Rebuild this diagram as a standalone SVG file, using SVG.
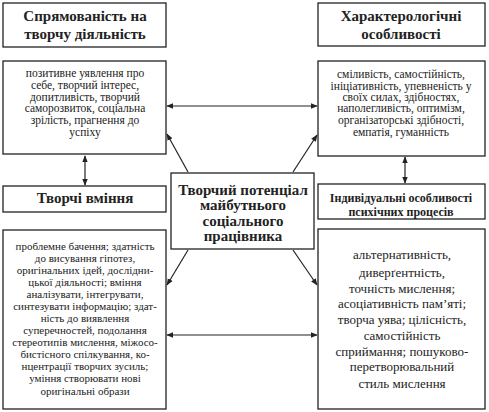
<svg xmlns="http://www.w3.org/2000/svg" width="489" height="412" viewBox="0 0 489 412">
<style>
.box{fill:#fff;stroke:#222;stroke-width:1.3}
.t{font-weight:bold;font-size:15px}
.s{font-size:11px}
.m{font-size:11.5px}
.l{font-size:13px}
.c{stroke:#222;stroke-width:1.2;fill:none}
</style>
<defs>
<marker id="a" viewBox="0 0 10 10" refX="9" refY="5" markerWidth="7" markerHeight="7" orient="auto-start-reverse" markerUnits="userSpaceOnUse">
<path d="M0,1 L10,5 L0,9 z" fill="#222"/>
</marker>
</defs>
<g id="connectors">
<line class="c" x1="167" y1="106" x2="317" y2="106" marker-start="url(#a)" marker-end="url(#a)"/>
<line class="c" x1="167" y1="335" x2="317" y2="335" marker-start="url(#a)" marker-end="url(#a)"/>
<line class="c" x1="188" y1="172" x2="167" y2="134" marker-end="url(#a)"/>
<line class="c" x1="293" y1="172" x2="317" y2="135" marker-end="url(#a)"/>
<line class="c" x1="188" y1="250" x2="167" y2="285" marker-end="url(#a)"/>
<line class="c" x1="293" y1="250" x2="317" y2="285" marker-end="url(#a)"/>
<line class="c" x1="85" y1="156" x2="85" y2="185" marker-start="url(#a)" marker-end="url(#a)"/>
<line class="c" x1="405" y1="157" x2="405" y2="183" marker-start="url(#a)" marker-end="url(#a)"/>
</g>
<g font-family="'Liberation Serif', 'DejaVu Serif', serif" fill="#222" text-anchor="middle">
<g id="n1">
<rect class="box" x="3" y="3" width="163" height="44"/>
<text class="t" x="85" y="21">Спрямованість на</text>
<text class="t" x="85" y="39">творчу діяльність</text>
</g>
<g id="n2">
<rect class="box" x="3" y="61" width="163" height="93"/>
<text class="m" x="85" y="77">позитивне уявлення про</text>
<text class="m" x="85" y="89">себе, творчий інтерес,</text>
<text class="m" x="85" y="101">допитливість, творчий</text>
<text class="m" x="85" y="112">саморозвиток, соціальна</text>
<text class="m" x="85" y="124">зрілість, прагнення до</text>
<text class="m" x="85" y="136">успіху</text>
</g>
<g id="n3">
<rect class="box" x="318" y="3" width="167" height="43"/>
<text class="t" x="401" y="21">Характерологічні</text>
<text class="t" x="401" y="39">особливості</text>
</g>
<g id="n4">
<rect class="box" x="318" y="61" width="167" height="95"/>
<text class="m" x="401" y="78">сміливість, самостійність,</text>
<text class="m" x="401" y="90">ініціативність, упевненість у</text>
<text class="m" x="401" y="101">своїх силах, здібностях,</text>
<text class="m" x="401" y="112">наполегливість, оптимізм,</text>
<text class="m" x="401" y="124">організаторські здібності,</text>
<text class="m" x="401" y="136">емпатія, гуманність</text>
</g>
<g id="n5">
<rect class="box" x="3" y="186" width="163" height="26"/>
<text class="t" x="85" y="203">Творчі вміння</text>
</g>
<g id="n6">
<rect class="box" x="3" y="230" width="163" height="179"/>
<text class="s" x="85" y="250">проблемне бачення; здатність</text>
<text class="s" x="85" y="262">до висування гіпотез,</text>
<text class="s" x="85" y="274">оригінальних ідей, дослідни-</text>
<text class="s" x="85" y="286">цької діяльності; вміння</text>
<text class="s" x="85" y="298">аналізувати, інтегрувати,</text>
<text class="s" x="85" y="310">синтезувати інформацію; здат-</text>
<text class="s" x="85" y="322">ність до виявлення</text>
<text class="s" x="85" y="334">суперечностей, подолання</text>
<text class="s" x="85" y="346">стереотипів мислення, міжосо-</text>
<text class="s" x="85" y="358">бистісного спілкування, ко-</text>
<text class="s" x="85" y="370">нцентрації творчих зусиль;</text>
<text class="s" x="85" y="382">уміння створювати нові</text>
<text class="s" x="85" y="395">оригінальні образи</text>
</g>
<g id="n7">
<rect class="box" x="171" y="173" width="143" height="76"/>
<text class="t" x="243" y="195">Творчий потенціал</text>
<text class="t" x="243" y="210">майбутнього</text>
<text class="t" x="243" y="226">соціального</text>
<text class="t" x="243" y="241">працівника</text>
</g>
<g id="n8">
<rect class="box" x="318" y="184" width="167" height="35"/>
<text x="401" y="202" font-weight="bold" font-size="12">Індивідуальні особливості</text>
<text x="401" y="216" font-weight="bold" font-size="12">психічних процесів</text>
</g>
<g id="n9">
<rect class="box" x="318" y="229" width="167" height="180"/>
<text class="l" x="402" y="259">альтернативність,</text>
<text class="l" x="402" y="277">диверґентність,</text>
<text class="l" x="402" y="293">точність мислення;</text>
<text class="l" x="402" y="308">асоціативність пам’яті;</text>
<text class="l" x="402" y="324">творча уява; цілісність,</text>
<text class="l" x="402" y="340">самостійність</text>
<text class="l" x="402" y="356">сприймання; пошуково-</text>
<text class="l" x="402" y="371">перетворювальний</text>
<text class="l" x="402" y="388">стиль мислення</text>
</g>
</g>
</svg>
